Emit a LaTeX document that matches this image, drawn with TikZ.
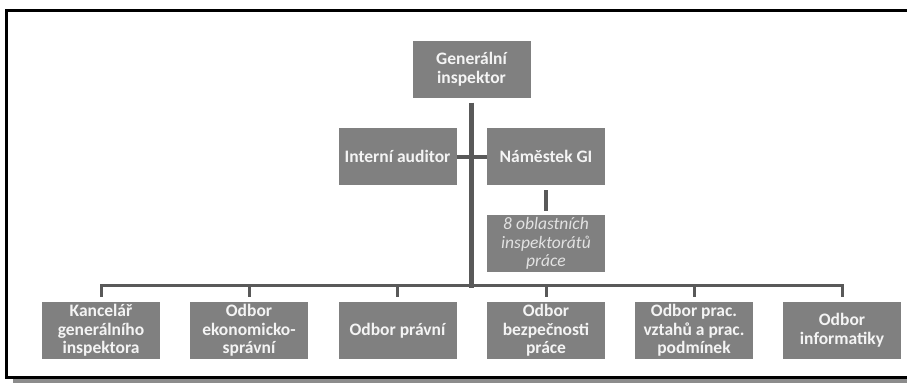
\documentclass[tikz,border=0pt]{standalone}
\usepackage{fontspec}
\setmainfont{Carlito}
\usetikzlibrary{calc}
\definecolor{boxgrey}{HTML}{808080}
\definecolor{linegrey}{HTML}{595959}
\definecolor{txtwhite}{HTML}{F4F4F4}
\definecolor{txtlight}{HTML}{E2E2E2}
\definecolor{shadowgrey}{HTML}{8C8C8C}

\tikzset{
  unit/.style={fill=boxgrey, text=txtwhite, font=\fontsize{17.5}{18.6}\selectfont\bfseries,
    minimum width=118pt, minimum height=57pt, align=center, inner sep=0pt},
  region/.style={unit, text=txtlight, font=\fontsize{17.5}{18.6}\selectfont\itshape},
  link/.style={draw=linegrey, line width=3pt},
}

\begin{document}
\begin{tikzpicture}[x=1pt,y=1pt,yscale=-1]
  \useasboundingbox (0,0) rectangle (907,383);

  %frame with shadow
  \fill[shadowgrey] (13,379) rectangle (907,383);
  \draw[line width=3pt] (907,10.5) -- (6.5,10.5) -- (6.5,377) -- (907,377);

  %top of the chart
  \node[unit] (gi) at (471.5,69) {Generální\\inspektor};
  \node[unit] (ia) at (397.5,156.5) {Interní auditor};
  \node[unit] (nam) at (546,156.5) {Náměstek GI};
  \node[region] (oi) at (546,243.5) {8 oblastních\\inspektorátů\\práce};

  %departments
  \node[unit] (kgi) at (101,330.5) {Kancelář\\generálního\\inspektora};
  \node[unit] (oes) at (249,330.5) {Odbor\\ekonomicko-\\správní};
  \node[unit] (op) at (397.5,330.5) {Odbor právní};
  \node[unit] (obp) at (546,330.5) {Odbor\\bezpečnosti\\práce};
  \node[unit] (ovp) at (694,330.5) {Odbor prac.\\vztahů a prac.\\podmínek};
  \node[unit] (oi2) at (842,330.5) {Odbor\\informatiky};

  %connectors
  \coordinate (bus) at ($(gi.south)+(0,190)$);
  \draw[link, line width=5pt] ($(gi.south)+(0,5)$) -- (bus);
  \draw[link, line width=4pt] (ia.east) -- (nam.west);
  \draw[link, line width=4pt] ($(nam.south)+(0,5)$) -- ($(oi.north)+(0,-4)$);
  \draw[link] ($(kgi.north)+(0,-16)$) -- ($(oi2.north)+(0,-16)$);
  \foreach \n in {kgi,oes,op,obp,ovp,oi2}
    \draw[link] ($(\n.north)+(0,-17.5)$) -- ($(\n.north)+(0,-5)$);
\end{tikzpicture}
\end{document}
